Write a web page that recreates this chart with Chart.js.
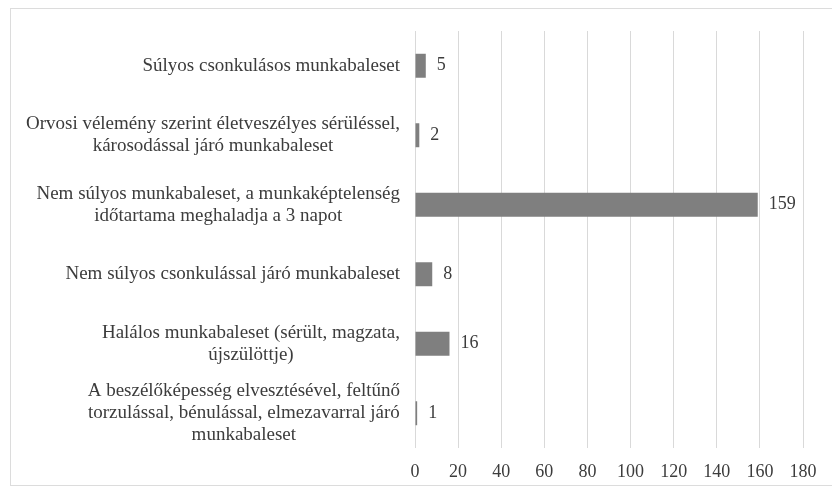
<!DOCTYPE html>
<html>
<head>
<meta charset="utf-8">
<script src="https://cdn.jsdelivr.net/npm/chart.js@4/dist/chart.umd.min.js"></script>
<style>
  html, body { margin: 0; padding: 0; background: #fff; }
  #wrap { position: relative; width: 832px; height: 489px; }
  #frame { position: absolute; left: 10px; top: 8px; width: 830px; height: 478px; border: 1px solid #dcdcdc; box-sizing: border-box; }
  canvas { position: absolute; left: 0; top: 0; }
</style>
</head>
<body>
<div id="wrap">
  <div id="frame"></div>
  <canvas id="chart" width="832" height="489"></canvas>
</div>
<script>
// categories, top to bottom (each entry is the lines of one label)
var categories = [
    ['Súlyos csonkulásos munkabaleset'],
    ['Orvosi vélemény szerint életveszélyes sérüléssel,', 'károsodással járó munkabaleset'],
    ['Nem súlyos munkabaleset, a munkaképtelenség', 'időtartama meghaladja a 3 napot'],
    ['Nem súlyos csonkulással járó munkabaleset'],
    ['Halálos munkabaleset (sérült, magzata,', 'újszülöttje)'],
    ['A beszélőképesség elvesztésével, feltűnő', 'torzulással, bénulással, elmezavarral járó', 'munkabaleset']
];
var counts = [5, 2, 159, 8, 16, 1];
var xTicks = [0, 20, 40, 60, 80, 100, 120, 140, 160, 180];

var textColor = '#3c3c3c';
var serif = '"Liberation Serif", "Times New Roman", serif';

// category labels: block right-aligned to the axis, lines centred inside the block
var catLabels = {
    id: 'catLabels',
    afterDraw: function(chart) {
        var ctx = chart.ctx;
        var yScale = chart.scales.y;
        var right = chart.chartArea.left - 15;
        var lineH = 22;
        ctx.save();
        ctx.font = '19px ' + serif;
        ctx.fillStyle = textColor;
        ctx.textBaseline = 'middle';
        ctx.textAlign = 'center';
        categories.forEach(function(lines, i) {
            var yc = yScale.getPixelForValue(i);
            var w = 0;
            lines.forEach(function(l){ w = Math.max(w, ctx.measureText(l).width); });
            var xc = right - w / 2;
            var y0 = yc - (lines.length - 1) * lineH / 2;
            lines.forEach(function(l, k){ ctx.fillText(l, xc, y0 + k * lineH); });
        });
        ctx.restore();
    }
};

// value labels at the end of each bar
var valueLabels = {
    id: 'valueLabels',
    afterDatasetsDraw: function(chart) {
        var ctx = chart.ctx;
        var meta = chart.getDatasetMeta(0);
        ctx.save();
        ctx.font = '18px ' + serif;
        ctx.fillStyle = textColor;
        ctx.textBaseline = 'middle';
        ctx.textAlign = 'left';
        meta.data.forEach(function(bar, i) {
            ctx.fillText(String(counts[i]), bar.x + 11, bar.y);
        });
        ctx.restore();
    }
};

var ctx = document.getElementById('chart').getContext('2d');
var chart = new Chart(ctx, {
    type: 'bar',
    data: {
        labels: categories.map(function(l){ return l.join(' '); }),
        datasets: [{
            data: counts,
            backgroundColor: '#7f7f7f',
            borderWidth: 0,
            barPercentage: 0.345,
            categoryPercentage: 1
        }]
    },
    options: {
        indexAxis: 'y',
        responsive: false,
        animation: false,
        layout: { padding: { left: 415, right: 29, top: 31, bottom: 10 } },
        plugins: { legend: { display: false }, tooltip: { enabled: false } },
        scales: {
            x: {
                min: 0,
                max: 180,
                afterBuildTicks: function(axis) {
                    axis.ticks = xTicks.map(function(v){ return { value: v }; });
                },
                afterFit: function(axis) { axis.height = 31; },
                grid: { color: '#d9d9d9', lineWidth: 1, drawTicks: false },
                border: { display: false },
                ticks: {
                    padding: 13,
                    color: textColor,
                    font: { family: serif, size: 18 },
                    maxRotation: 0
                }
            },
            y: {
                display: false
            }
        }
    },
    plugins: [catLabels, valueLabels]
});
</script>
</body>
</html>
